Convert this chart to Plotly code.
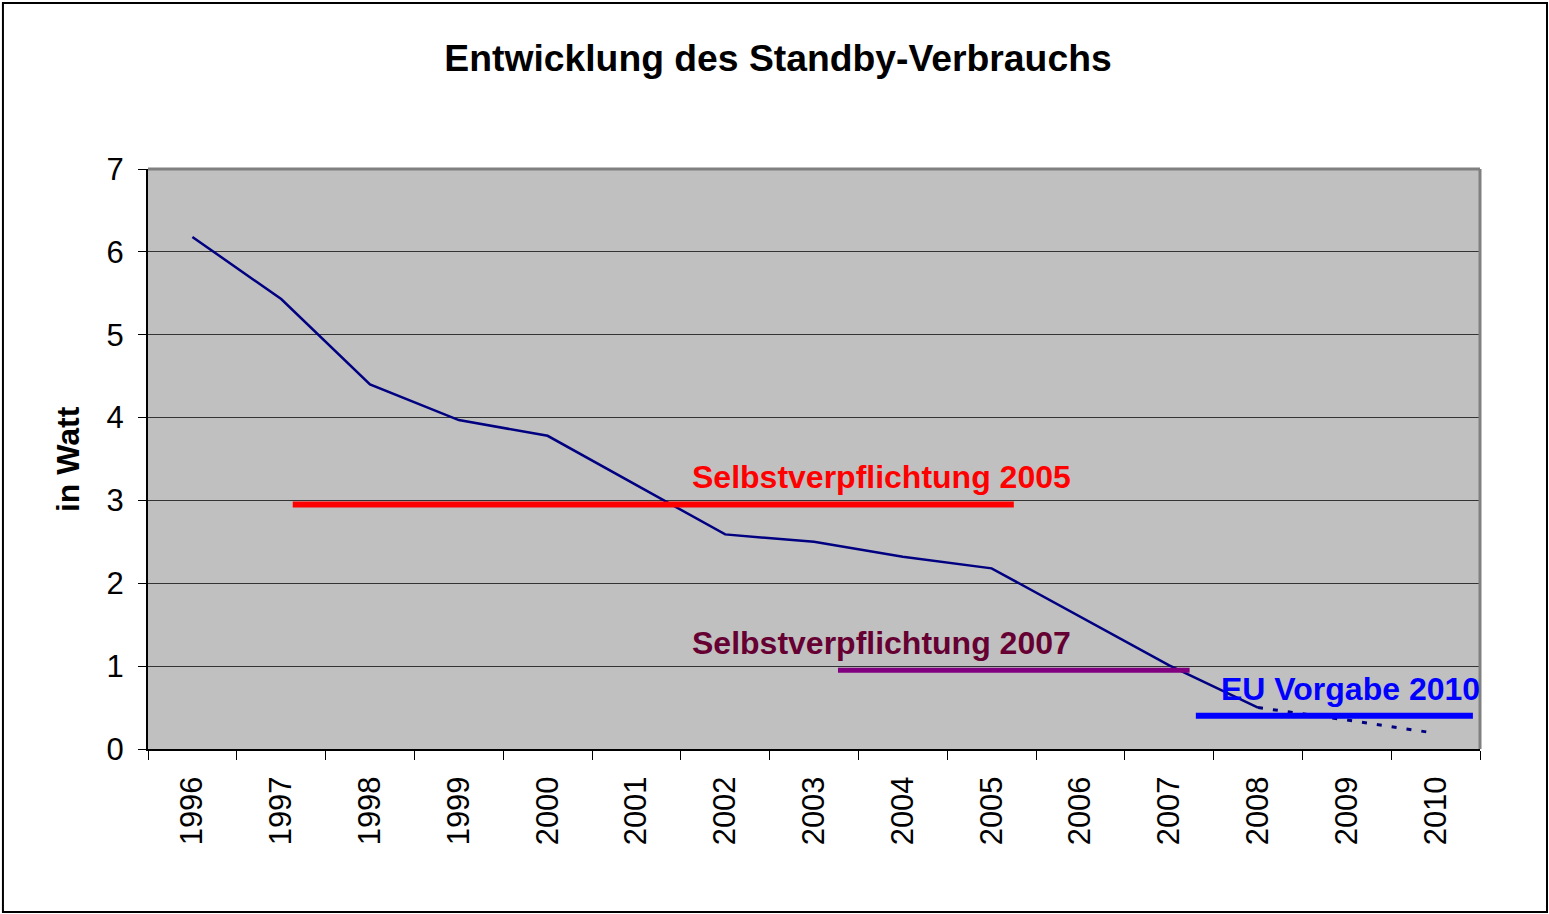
import plotly.graph_objects as go

# ---- data ----
years = [str(y) for y in range(1996, 2011)]
standby_watt = [6.18, 5.43, 4.40, 3.97, 3.78, 3.19, 2.59, 2.50, 2.32, 2.18, 1.60, 1.01, 0.50]
forecast_years = ["2008", "2009", "2010"]
forecast_watt = [0.50, 0.35, 0.19]

target_labels = ["Selbstverpflichtung 2005", "Selbstverpflichtung 2007", "EU Vorgabe 2010"]
target_watt = [2.95, 0.95, 0.40]
target_from = [1.13, 7.27, 11.30]   # category index span of each target bar
target_to = [9.25, 11.23, 14.42]

idx = {y: i for i, y in enumerate(years)}
FONT = "Liberation Sans, Arial, sans-serif"

fig = go.Figure()

fig.add_trace(go.Scatter(
    x=[idx[y] for y in years[:len(standby_watt)]], y=standby_watt,
    mode="lines", line=dict(color="#000080", width=2.5), showlegend=False))
fig.add_trace(go.Scatter(
    x=[idx[y] for y in forecast_years], y=forecast_watt,
    mode="lines", line=dict(color="#000080", width=3, dash="5px,10px"), showlegend=False))

target_colors = ["#FF0000", "#800080", "#0000FF"]
target_widths = [6, 5, 6]
for lab, v, a, b, c, w in zip(target_labels, target_watt, target_from, target_to, target_colors, target_widths):
    fig.add_trace(go.Scatter(x=[a, b], y=[v, v], mode="lines",
                             line=dict(color=c, width=w), showlegend=False))

text_colors = ["#FF0000", "#660033", "#0000FF"]
text_pos = [(5.60, 3.28), (5.60, 1.28), (11.56, 0.72)]
for lab, c, (tx, ty) in zip(target_labels, text_colors, text_pos):
    fig.add_annotation(x=tx, y=ty, text=f"<b>{lab}</b>", showarrow=False,
                       xanchor="left", yanchor="middle",
                       font=dict(family=FONT, size=32, color=c))

# y axis title
fig.add_annotation(xref="paper", yref="paper", x=-0.06, y=0.5, text="<b>in Watt</b>",
                   textangle=-90, showarrow=False, xanchor="center", yanchor="middle",
                   font=dict(family=FONT, size=32, color="black"))

# plot area top/right border (grey) and outer frame
fig.add_shape(type="line", xref="paper", yref="paper", x0=0, x1=1, y0=1, y1=1,
              line=dict(color="#808080", width=3))
fig.add_shape(type="line", xref="paper", yref="paper", x0=1, x1=1, y0=0, y1=1,
              line=dict(color="#808080", width=3))
fig.add_shape(type="rect", xref="paper", yref="paper",
              x0=-0.1089, x1=1.0503, y0=-0.281, y1=1.2862,
              line=dict(color="black", width=2))

fig.update_layout(
    width=1549, height=914,
    margin=dict(l=148, r=69, t=169, b=165),
    paper_bgcolor="white", plot_bgcolor="#C0C0C0",
    title=dict(text="<b>Entwicklung des Standby-Verbrauchs</b>", x=778 / 1549, xanchor="center",
               xref="container", y=1 - 58 / 914, yanchor="middle",
               font=dict(family=FONT, size=37.3, color="black")),
    font=dict(family=FONT, color="black"),
    showlegend=False,
)

fig.update_xaxes(
    range=[-0.5, len(years) - 0.5], tickmode="array",
    tickvals=list(range(len(years))), ticktext=years, tickangle=-90,
    ticks="", showgrid=False, zeroline=False,
    showline=True, linecolor="black", linewidth=2,
    tickfont=dict(family=FONT, size=31, color="black"),
    ticklabelstandoff=13,
    minor=dict(tickmode="array", tickvals=[i - 0.5 for i in range(len(years) + 1)],
               ticks="outside", ticklen=9, tickcolor="black", tickwidth=1, showgrid=False),
)
fig.update_yaxes(
    range=[0, 7], dtick=1, tick0=0, ticks="outside", ticklen=8, tickcolor="black",
    showgrid=True, gridcolor="#333333", gridwidth=1, zeroline=False,
    showline=True, linecolor="black", linewidth=2,
    tickfont=dict(family=FONT, size=31, color="black"),
    ticklabelstandoff=8,
)

fig.write_html("out.html", config={"displayModeBar": False},
               post_script="document.body.style.margin='0px';document.body.style.overflow='hidden';")
